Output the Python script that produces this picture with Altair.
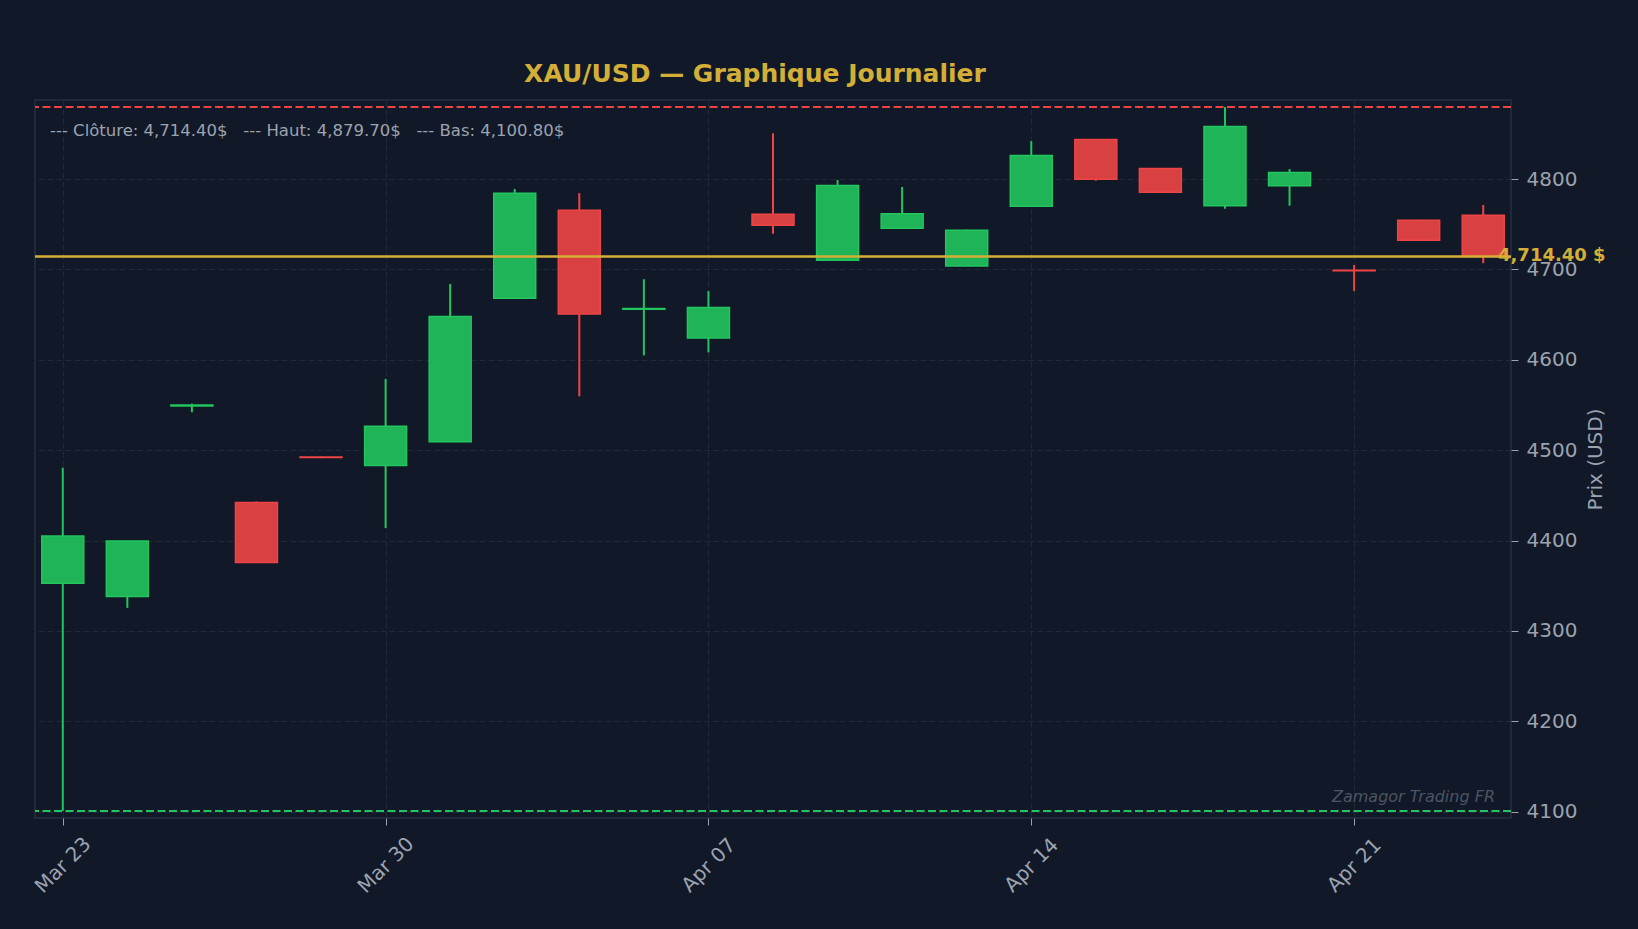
import numpy as np
import pandas as pd
import altair as alt

# daily candles XAU/USD (trading days only)
dates = ["2026-03-23", "2026-03-24", "2026-03-25", "2026-03-26", "2026-03-27",
         "2026-03-30", "2026-03-31", "2026-04-01", "2026-04-02", "2026-04-06",
         "2026-04-07", "2026-04-08", "2026-04-09", "2026-04-10", "2026-04-13",
         "2026-04-14", "2026-04-15", "2026-04-16", "2026-04-17", "2026-04-20",
         "2026-04-21", "2026-04-22", "2026-04-23"]
opens = [4352.7, 4338.0, 4549.0, 4442.0, 4492.5, 4483.0, 4509.2, 4668.2, 4765.4, 4656.0,
         4624.1, 4761.0, 4710.2, 4745.6, 4703.9, 4769.9, 4843.8, 4811.8, 4770.5, 4792.6,
         4699.0, 4754.4, 4759.9]
highs = [4480.5, 4399.5, 4551.5, 4443.3, 4493.0, 4578.8, 4684.0, 4789.0, 4784.5, 4689.2,
         4676.0, 4850.8, 4798.9, 4791.2, 4744.0, 4842.0, 4844.0, 4812.0, 4879.7, 4811.0,
         4705.0, 4755.0, 4771.3]
lows = [4100.8, 4325.5, 4542.0, 4375.6, 4491.8, 4413.8, 4509.0, 4668.0, 4559.6, 4604.9,
        4608.2, 4739.6, 4709.5, 4745.0, 4703.5, 4769.5, 4798.1, 4785.0, 4767.2, 4770.5,
        4676.3, 4732.0, 4706.9]
closes = [4405.0, 4399.5, 4550.0, 4375.6, 4492.0, 4526.5, 4648.0, 4784.2, 4650.6, 4656.8,
          4657.9, 4748.9, 4793.0, 4761.7, 4743.3, 4826.2, 4799.7, 4785.3, 4858.2, 4807.4,
          4698.5, 4732.3, 4714.4]

x_ticks = [0, 5, 10, 15, 20]
y_ticks = [4100, 4200, 4300, 4400, 4500, 4600, 4700, 4800]

BG = "#111827"
GRID = "#1f2937"
TXT = "#9ca3af"
GOLD = "#d4af37"
UP = "#22c55e"
DOWN = "#ef4444"
UP_FILL = "#20b459"
DOWN_FILL = "#d94041"

#%%
df = pd.DataFrame({"i": range(len(dates)), "date": dates, "open": opens,
                   "high": highs, "low": lows, "close": closes})
df["dir"] = np.where(df.close >= df.open, "up", "down")

labels = pd.to_datetime(df.date).dt.strftime("%b %d").tolist()
label_expr = "[" + ",".join(f"'{l}'" for l in labels) + "][datum.value]"

last_close = closes[-1]
hi = max(highs)
lo = min(lows)

#%%
xscale = alt.Scale(domain=[-0.43, 22.43], nice=False, zero=False, padding=0)
yscale = alt.Scale(domain=[4093, 4887.5], nice=False, zero=False)

x_axis = alt.Axis(values=x_ticks, labelExpr=label_expr, labelAngle=315,
                  labelAlign="center", labelBaseline="middle", labelPadding=40,
                  tickSize=7, tickColor=TXT, labelFontSize=20, labelColor=TXT,
                  grid=True, gridDash=[6, 3], gridColor=GRID, domain=False,
                  labelFlush=False, labelOverlap=False)
y_axis = alt.Axis(orient="right", values=y_ticks, format="d", tickSize=7, tickColor=TXT,
                  labelPadding=8, labelFontSize=20, labelColor=TXT,
                  grid=True, gridDash=[6, 3], gridColor=GRID, domain=False,
                  titleAngle=270, titleX=84, titleY=359, titleAlign="center",
                  titleBaseline="middle", titleFontSize=20, titleFontWeight="normal",
                  titleColor=TXT)

def X(f):
    return alt.X(f, scale=xscale, axis=x_axis, title=None)

def Y(f):
    return alt.Y(f, scale=yscale, axis=y_axis, title="Prix (USD)")

line_col = alt.Color("dir:N", scale=alt.Scale(domain=["up", "down"], range=[UP, DOWN]), legend=None)
fill_col = alt.Fill("dir:N", scale=alt.Scale(domain=["up", "down"], range=[UP_FILL, DOWN_FILL]),
                    legend=None)
stroke_col = alt.Stroke("dir:N", scale=alt.Scale(domain=["up", "down"], range=[UP, DOWN]),
                        legend=None)

base = alt.Chart(df)

wicks = base.mark_rule(strokeWidth=2).encode(x=X("i:Q"), y=Y("low:Q"), y2="high:Q", color=line_col)

bodies = base.mark_bar(size=42, strokeWidth=1.5).encode(
    x=X("i:Q"), y=Y("open:Q"), y2="close:Q", fill=fill_col, stroke=stroke_col)

close_line = alt.Chart(pd.DataFrame({"v": [last_close]})).mark_rule(
    color=GOLD, strokeWidth=2.5).encode(y=Y("v:Q"))

hi_line = alt.Chart(pd.DataFrame({"v": [hi]})).mark_rule(
    color=DOWN, strokeWidth=2, strokeDash=[8, 3.5]).encode(y=Y("v:Q"))
lo_line = alt.Chart(pd.DataFrame({"v": [lo]})).mark_rule(
    color=UP, strokeWidth=2, strokeDash=[8, 3.5]).encode(y=Y("v:Q"))

sp = "\u00a0" * 3
annot_txt = (f"--- Clôture: {last_close:,.2f}${sp}--- Haut: {hi:,.2f}${sp}"
             f"--- Bas: {lo:,.2f}$")
annot = alt.Chart(pd.DataFrame({"t": [annot_txt]})).mark_text(
    align="left", baseline="alphabetic", fontSize=16.5, color=TXT).encode(
    x=alt.value(15), y=alt.value(36), text="t:N")

price_lbl = alt.Chart(pd.DataFrame({"v": [last_close], "t": [f"{last_close:,.2f} $"]})).mark_text(
    align="left", baseline="middle", fontSize=18, fontWeight="bold", color=GOLD).encode(
    x=alt.value(1463), y=Y("v:Q"), text="t:N")

watermark = alt.Chart(pd.DataFrame({"t": ["Zamagor Trading FR"]})).mark_text(
    align="right", baseline="alphabetic", fontSize=16, fontStyle="italic", color="#4b5563").encode(
    x=alt.value(1460), y=alt.value(702), text="t:N")

chart = (alt.layer(wicks, bodies, hi_line, lo_line, close_line, annot, price_lbl, watermark)
         .properties(width=1476, height=718,
                     autosize=alt.AutoSizeParams(type="none"),
                     padding={"left": 27, "top": 92, "right": 119, "bottom": 103},
                     background=BG,
                     title=alt.TitleParams("XAU/USD — Graphique Journalier", fontSize=25,
                                           font="DejaVu Sans", fontWeight="bold", color=GOLD,
                                           anchor="middle", frame="group", baseline="alphabetic",
                                           offset=19, dx=-18, dy=26))
         .configure(font="DejaVu Sans")
         .configure_view(stroke=GRID, strokeWidth=2, fill=BG))

chart.save("out.html", embed_options={"renderer": "svg", "actions": False})

# dark page behind the 8px margin
with open("out.html", encoding="utf-8") as fh:
    html = fh.read()
html = html.replace("<head>", "<head>\n<style>body { background: #111827; }</style>", 1)
with open("out.html", "w", encoding="utf-8") as fh:
    fh.write(html)
